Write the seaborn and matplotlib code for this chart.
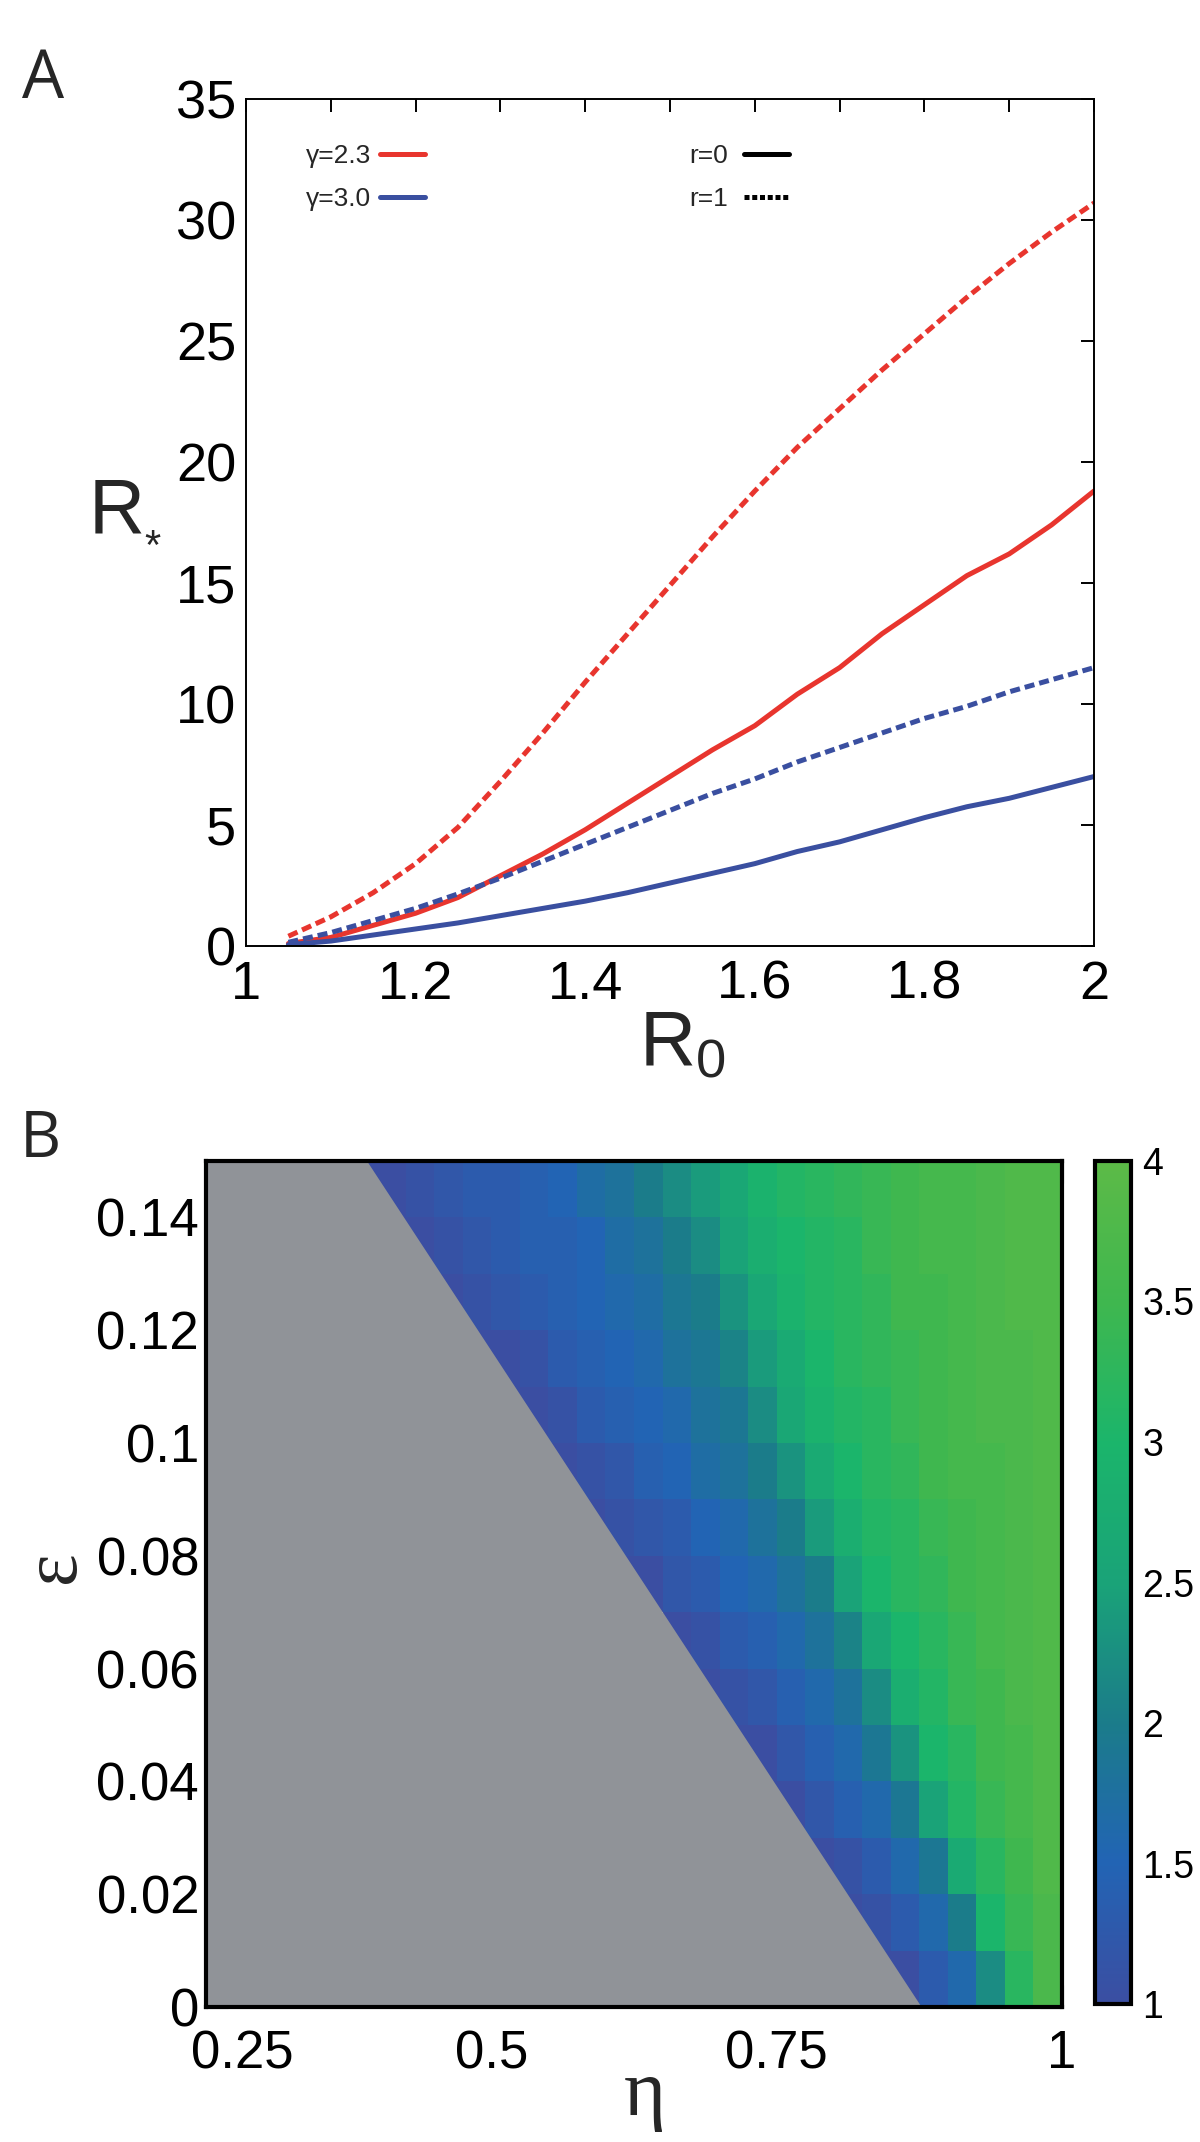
import numpy as np
import pandas as pd
import seaborn as sns
import matplotlib.pyplot as plt
import matplotlib.transforms as mtransforms
from matplotlib.colors import LinearSegmentedColormap
from matplotlib.lines import Line2D
from matplotlib.patches import Polygon

# ---- panel A data ----
R0 = [1.05, 1.1, 1.15, 1.2, 1.25, 1.3, 1.35, 1.4, 1.45, 1.5,
      1.55, 1.6, 1.65, 1.7, 1.75, 1.8, 1.85, 1.9, 1.95, 2.0]
rstar_g23_r0 = [0.1, 0.35, 0.85, 1.35, 2.0, 2.9, 3.8, 4.8, 5.9, 7.0,
                8.1, 9.1, 10.4, 11.5, 12.9, 14.1, 15.3, 16.2, 17.4, 18.8]
rstar_g23_r1 = [0.4, 1.2, 2.2, 3.4, 4.9, 6.8, 8.8, 10.9, 12.9, 14.9,
                16.9, 18.8, 20.6, 22.2, 23.8, 25.3, 26.8, 28.2, 29.5, 30.7]
rstar_g30_r0 = [0.05, 0.2, 0.45, 0.7, 0.95, 1.25, 1.55, 1.85, 2.2, 2.6,
                3.0, 3.4, 3.9, 4.3, 4.8, 5.3, 5.75, 6.1, 6.55, 7.0]
rstar_g30_r1 = [0.15, 0.55, 1.05, 1.55, 2.15, 2.8, 3.5, 4.2, 4.9, 5.6,
                6.3, 6.9, 7.6, 8.2, 8.8, 9.4, 9.9, 10.5, 11.0, 11.5]
gamma_labels = ['γ=2.3', 'γ=3.0']
r_labels = ['r=0', 'r=1']

# ---- panel B data ----
eta_centers = [0.2625, 0.2875, 0.3125, 0.3375, 0.3625, 0.3875, 0.4125, 0.4375,
               0.4625, 0.4875, 0.5125, 0.5375, 0.5625, 0.5875, 0.6125, 0.6375,
               0.6625, 0.6875, 0.7125, 0.7375, 0.7625, 0.7875, 0.8125, 0.8375,
               0.8625, 0.8875, 0.9125, 0.9375, 0.9625, 0.9875]
eps_centers = [0.145, 0.135, 0.125, 0.115, 0.105, 0.095, 0.085, 0.075,
               0.065, 0.055, 0.045, 0.035, 0.025, 0.015, 0.005]
# each row ends at eta = 1, cells to the left are in the grey region
rstar_rows = [
    [1.0, 1.0, 1.1, 1.2, 1.3, 1.3, 1.4, 1.5, 1.7, 1.8, 2.0, 2.2, 2.4, 2.6, 2.9,
     3.1, 3.2, 3.3, 3.4, 3.5, 3.6, 3.6, 3.7, 3.8, 3.8],
    [1.0, 1.0, 1.1, 1.2, 1.3, 1.4, 1.4, 1.5, 1.7, 1.8, 2.0, 2.2, 2.5, 2.8, 3.0,
     3.1, 3.2, 3.4, 3.5, 3.6, 3.6, 3.7, 3.8, 3.8],
    [1.0, 1.1, 1.2, 1.3, 1.4, 1.5, 1.6, 1.7, 1.9, 2.0, 2.3, 2.6, 2.9, 3.1, 3.2,
     3.3, 3.5, 3.5, 3.6, 3.7, 3.8, 3.8],
    [1.0, 1.0, 1.1, 1.3, 1.4, 1.5, 1.6, 1.8, 1.9, 2.1, 2.4, 2.7, 3.0, 3.2, 3.3,
     3.4, 3.5, 3.6, 3.7, 3.7, 3.8],
    [1.0, 1.0, 1.1, 1.3, 1.4, 1.5, 1.6, 1.8, 1.9, 2.2, 2.6, 2.9, 3.1, 3.2, 3.4,
     3.5, 3.6, 3.7, 3.7, 3.8],
    [1.0, 1.1, 1.2, 1.4, 1.5, 1.7, 1.8, 2.0, 2.3, 2.7, 3.0, 3.2, 3.3, 3.5, 3.6,
     3.6, 3.7, 3.8],
    [1.0, 1.1, 1.2, 1.3, 1.5, 1.6, 1.8, 2.0, 2.4, 2.8, 3.1, 3.2, 3.4, 3.5, 3.6,
     3.7, 3.8],
    [1.0, 1.0, 1.2, 1.3, 1.5, 1.6, 1.8, 2.0, 2.5, 3.0, 3.2, 3.3, 3.5, 3.6, 3.7, 3.8],
    [1.0, 1.1, 1.3, 1.4, 1.6, 1.8, 2.1, 2.6, 3.0, 3.2, 3.4, 3.6, 3.7, 3.8],
    [1.0, 1.1, 1.2, 1.4, 1.6, 1.8, 2.2, 2.8, 3.1, 3.4, 3.5, 3.7, 3.8],
    [1.0, 1.0, 1.2, 1.4, 1.6, 1.9, 2.3, 3.0, 3.2, 3.5, 3.6, 3.8],
    [1.0, 1.0, 1.2, 1.4, 1.6, 1.9, 2.5, 3.1, 3.4, 3.6, 3.8],
    [1.0, 1.1, 1.3, 1.6, 1.9, 2.7, 3.2, 3.5, 3.8],
    [1.0, 1.1, 1.3, 1.6, 2.0, 3.0, 3.4, 3.7],
    [1.0, 1.0, 1.3, 1.6, 2.2, 3.2, 3.7],
]
# edge of the grey (no outbreak) region
edge_eta = [0.877, 0.391]
edge_eps = [0.0, 0.15]

RED = '#e8352e'
BLUE = '#3a4fa0'
GREY = '#909398'
cmap = LinearSegmentedColormap.from_list('rstar', [
    (0.0, '#3b4ea2'), (1 / 6, '#2264b4'), (2 / 6, '#1b7c8a'), (3 / 6, '#1aa378'),
    (4 / 6, '#1bb56b'), (5 / 6, '#3fb74f'), (1.0, '#5cba47')])

sns.set_style('white')
plt.rcParams['font.family'] = ['Liberation Sans', 'DejaVu Sans']
plt.rcParams['mathtext.fontset'] = 'custom'
plt.rcParams['mathtext.rm'] = 'Liberation Sans'
plt.rcParams['mathtext.it'] = 'Liberation Sans'

fig = plt.figure(figsize=(12, 21.42), dpi=100)
axA = fig.add_axes([0.205, 0.5584, 0.7067, 0.3954])
axB = fig.add_axes([0.1717, 0.0630, 0.7133, 0.3950])
cax = fig.add_axes([0.9125, 0.0644, 0.03, 0.3936])

# ---------------- panel A ----------------
frames = []
for g, r, vals in [(gamma_labels[0], r_labels[0], rstar_g23_r0),
                   (gamma_labels[0], r_labels[1], rstar_g23_r1),
                   (gamma_labels[1], r_labels[0], rstar_g30_r0),
                   (gamma_labels[1], r_labels[1], rstar_g30_r1)]:
    frames.append(pd.DataFrame({'R0': R0, 'Rstar': vals, 'gamma': g, 'r': r}))
df = pd.concat(frames, ignore_index=True)

sns.lineplot(data=df, x='R0', y='Rstar', hue='gamma', style='r', ax=axA,
             palette={gamma_labels[0]: RED, gamma_labels[1]: BLUE},
             dashes={r_labels[0]: '', r_labels[1]: (2, 1)},
             linewidth=3.6, legend=False)

axA.set_xlim(1, 2)
axA.set_ylim(0, 35)
xt = [1.0, 1.1, 1.2, 1.3, 1.4, 1.5, 1.6, 1.7, 1.8, 1.9, 2.0]
axA.set_xticks(xt)
axA.set_xticklabels(['1', '', '1.2', '', '1.4', '', '1.6', '', '1.8', '', '2'])
axA.set_yticks([0, 5, 10, 15, 20, 25, 30, 35])
axA.set_yticklabels(['0', '5', '10', '15', '20', '25', '30', '35'])
axA.tick_params(direction='in', length=9.5, width=1.4, top=True, right=True,
                labelsize=39, colors='black')
axA.tick_params(axis='x', pad=10)
axA.tick_params(axis='y', pad=7)
for s in axA.spines.values():
    s.set_visible(True)
    s.set_linewidth(1.4)
    s.set_color('black')

axA.set_ylabel('R', fontsize=56, rotation=0, ha='center', va='center')
axA.yaxis.set_label_coords(-0.152, 0.512)
axA.text(-0.110, 0.470, '*', transform=axA.transAxes, fontsize=30,
         ha='center', va='center')
axA.set_xlabel(r'$\mathrm{R}_0$', fontsize=56, va='center')
axA.xaxis.set_label_coords(0.515, -0.117)

h1 = [Line2D([], [], color=RED, lw=3.6), Line2D([], [], color=BLUE, lw=3.6)]
leg1 = axA.legend(h1, gamma_labels, loc='center right', bbox_to_anchor=(0.211, 0.907),
                  frameon=False, markerfirst=False, fontsize=19, handlelength=1.7,
                  handletextpad=0.35, labelspacing=0.7, borderpad=0, borderaxespad=0)
axA.add_artist(leg1)
h2 = [Line2D([], [], color='black', lw=3.6),
      Line2D([], [], color='black', lw=3.6, dashes=(1, 0.55))]
axA.legend(h2, r_labels, loc='center right', bbox_to_anchor=(0.640, 0.907),
           frameon=False, markerfirst=False, fontsize=19, handlelength=1.7,
           handletextpad=0.6, labelspacing=0.7, borderpad=0, borderaxespad=0)

# ---------------- panel B ----------------
ncol = len(eta_centers)
grid = np.full((len(eps_centers), ncol), np.nan)
for i, row in enumerate(rstar_rows):
    grid[i, ncol - len(row):] = row
mat = pd.DataFrame(grid, index=eps_centers, columns=eta_centers)

sns.heatmap(mat, ax=axB, cbar_ax=cax, cmap=cmap, vmin=1, vmax=4,
            xticklabels=False, yticklabels=False)

deta = eta_centers[1] - eta_centers[0]
eta0 = eta_centers[0] - deta / 2
deps = eps_centers[0] - eps_centers[1]
eps_top = eps_centers[0] + deps / 2


def to_x(v):
    return (np.asarray(v) - eta0) / deta


def to_y(v):
    return (eps_top - np.asarray(v)) / deps


poly = Polygon([(to_x(eta0), to_y(0.0)),
                (to_x(edge_eta[0]), to_y(edge_eps[0])),
                (to_x(edge_eta[1]), to_y(edge_eps[1])),
                (to_x(eta0), to_y(eps_top))],
               closed=True, facecolor=GREY, edgecolor='none', zorder=3)
axB.add_patch(poly)

eta_ticks = [0.25, 0.5, 0.75, 1.0]
eps_ticks = [0, 0.02, 0.04, 0.06, 0.08, 0.1, 0.12, 0.14]
axB.set_xticks(to_x(eta_ticks))
axB.set_xticklabels(['0.25', '0.5', '0.75', '1'])
axB.set_yticks(to_y(eps_ticks))
axB.set_yticklabels(['0', '0.02', '0.04', '0.06', '0.08', '0.1', '0.12', '0.14'],
                    rotation=0)
axB.tick_params(direction='in', length=16, width=2.2, top=True, right=True,
                bottom=True, left=True, labelsize=38, colors='black')
axB.tick_params(axis='x', pad=16, rotation=0)
axB.tick_params(axis='y', pad=5)
for s in axB.spines.values():
    s.set_visible(True)
    s.set_linewidth(3)
    s.set_color('black')
    s.set_zorder(5)

first = axB.xaxis.get_major_ticks()[0].label1
first.set_transform(first.get_transform() +
                    mtransforms.ScaledTranslation(0.36, 0, fig.dpi_scale_trans))

axB.set_ylabel('ε', fontsize=56, family=['Liberation Serif', 'DejaVu Serif'],
               va='center')
axB.yaxis.set_label_coords(-0.176, 0.52)
axB.set_xlabel('η', fontsize=58, family=['Liberation Serif', 'DejaVu Serif'],
               va='center')
axB.xaxis.set_label_coords(0.513, -0.104)

cbar = axB.collections[0].colorbar
cbar.set_ticks([1, 1.5, 2, 2.5, 3, 3.5, 4])
cbar.set_ticklabels(['1', '1.5', '2', '2.5', '3', '3.5', '4'])
cbar.outline.set_linewidth(3)
cbar.outline.set_edgecolor('black')
cax.tick_params(direction='in', length=7, width=2, left=True, right=True,
                labelsize=27, pad=8, colors='black')

fig.text(43 / 1200, 1 - 80 / 2142, 'A', fontsize=48, family=['Open Sans'],
         ha='center', va='center')
fig.text(40 / 1200, 1 - 1140 / 2142, 'B', fontsize=46, family=['Open Sans'],
         ha='center', va='center')

fig.savefig('out.png', dpi=100)
